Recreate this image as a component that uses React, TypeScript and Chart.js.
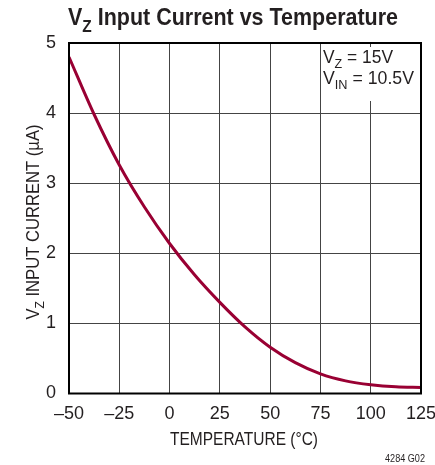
import { useEffect, useRef } from 'react';
import { Chart, registerables } from 'chart.js';

Chart.register(...registerables);

const temperatures = [-50, -37.5, -25, -12.5, 0, 12.5, 25, 37.5, 50, 62.5, 75, 87.5, 100, 112.5, 125];
const currents = [4.8, 3.98, 3.26, 2.66, 2.14, 1.69, 1.3, 0.95, 0.66, 0.44, 0.28, 0.18, 0.125, 0.095, 0.085];
const xTickValues = [-50, -25, 0, 25, 50, 75, 100, 125];
const yTickValues = [0, 1, 2, 3, 4, 5];

const FONT = '"Liberation Sans", Arial, sans-serif';
const TEXT = '#231f20';

type Part = [string, boolean];

function measureParts(ctx: CanvasRenderingContext2D, parts: Part[], size: number, weight: string) {
  let w = 0;
  for (const [t, sub] of parts) {
    const s = sub ? size * 0.72 : size;
    ctx.font = `${weight} ${s}px ${FONT}`;
    w += ctx.measureText(t).width;
  }
  return w;
}

// draws text parts (with subscripts) squeezed horizontally to a target width
function drawParts(ctx: CanvasRenderingContext2D, parts: Part[], x: number, y: number, size: number, weight: string, targetWidth: number) {
  const natural = measureParts(ctx, parts, size, weight);
  ctx.save();
  ctx.translate(x, y);
  ctx.scale(targetWidth / natural, 1);
  let cx = 0;
  for (const [t, sub] of parts) {
    const s = sub ? size * 0.72 : size;
    ctx.font = `${weight} ${s}px ${FONT}`;
    ctx.textAlign = 'left';
    ctx.fillText(t, cx, sub ? size * 0.28 : 0);
    cx += ctx.measureText(t).width;
  }
  ctx.restore();
}

const decorPlugin = {
  id: 'decor',
  afterDraw(chart: any) {
    const ctx: CanvasRenderingContext2D = chart.ctx;
    const a = chart.chartArea;
    ctx.save();
    ctx.strokeStyle = '#000';
    ctx.lineWidth = 2;
    ctx.strokeRect(a.left, a.top, a.right - a.left, a.bottom - a.top);

    ctx.fillStyle = TEXT;
    ctx.textBaseline = 'alphabetic';

    // title
    drawParts(ctx, [['V', false], ['Z', true], [' Input Current vs Temperature', false]], 68, 25, 24, 'bold', 330);

    // annotation
    const ax = 323;
    ctx.fillStyle = '#fff';
    ctx.fillRect(ax - 1, 47, 93, 54);
    ctx.fillStyle = TEXT;
    drawParts(ctx, [['V', false], ['Z', true], [' = 15V', false]], ax, 63, 18, 'normal', 70);
    drawParts(ctx, [['V', false], ['IN', true], [' = 10.5V', false]], ax, 84, 18, 'normal', 91);

    // y axis title
    ctx.save();
    ctx.translate(39, 222);
    ctx.rotate(-Math.PI / 2);
    drawParts(ctx, [['V', false], ['Z', true], [' INPUT CURRENT (µA)', false]], -97.5, 0, 18, 'normal', 195);
    ctx.restore();

    // x axis title
    drawParts(ctx, [['TEMPERATURE (°C)', false]], 170, 445, 18, 'normal', 148);

    // figure id
    drawParts(ctx, [['4284 G02', false]], 385, 462, 11, 'normal', 40);
    ctx.restore();
  },
};

export default function App() {
  const ref = useRef<HTMLCanvasElement | null>(null);
  useEffect(() => {
    if (!ref.current) return;
    const chart = new Chart(ref.current, {
      type: 'line',
      data: {
        datasets: [
          {
            data: temperatures.map((t, i) => ({ x: t, y: currents[i] })),
            borderColor: '#990033',
            borderWidth: 3,
            pointRadius: 0,
            cubicInterpolationMode: 'monotone',
            fill: false,
          },
        ],
      },
      options: {
        responsive: false,
        animation: false,
        events: [],
        layout: { padding: { top: 43, right: 14, left: 0, bottom: 0 } },
        plugins: { legend: { display: false }, tooltip: { enabled: false }, title: { display: false } },
        scales: {
          x: {
            type: 'linear',
            min: -50,
            max: 125,
            afterBuildTicks: (s: any) => { s.ticks = xTickValues.map((v) => ({ value: v })); },
            afterFit: (s: any) => { s.height = 71.5; s.paddingLeft = 0; s.paddingRight = 0; },
            grid: { color: '#444', lineWidth: 1, drawTicks: false },
            border: { display: false },
            ticks: {
              padding: 10,
              color: TEXT,
              font: { family: FONT, size: 18 },
              callback: (v: any) => String(v).replace('-', '\u2013'),
            },
          },
          y: {
            type: 'linear',
            min: 0,
            max: 5,
            afterBuildTicks: (s: any) => { s.ticks = yTickValues.map((v) => ({ value: v })); },
            afterFit: (s: any) => { s.width = 69; s.paddingTop = 0; s.paddingBottom = 0; },
            grid: { color: '#444', lineWidth: 1, drawTicks: false },
            border: { display: false },
            ticks: {
              padding: 13,
              color: TEXT,
              font: { family: FONT, size: 18 },
            },
          },
        },
      },
      plugins: [decorPlugin],
    } as any);
    return () => chart.destroy();
  }, []);
  return (
    <div style={{ position: 'absolute', left: 0, top: 0, width: 435, height: 465, background: '#fff' }}>
      <canvas ref={ref} width={435} height={465} style={{ display: 'block' }} />
    </div>
  );
}
